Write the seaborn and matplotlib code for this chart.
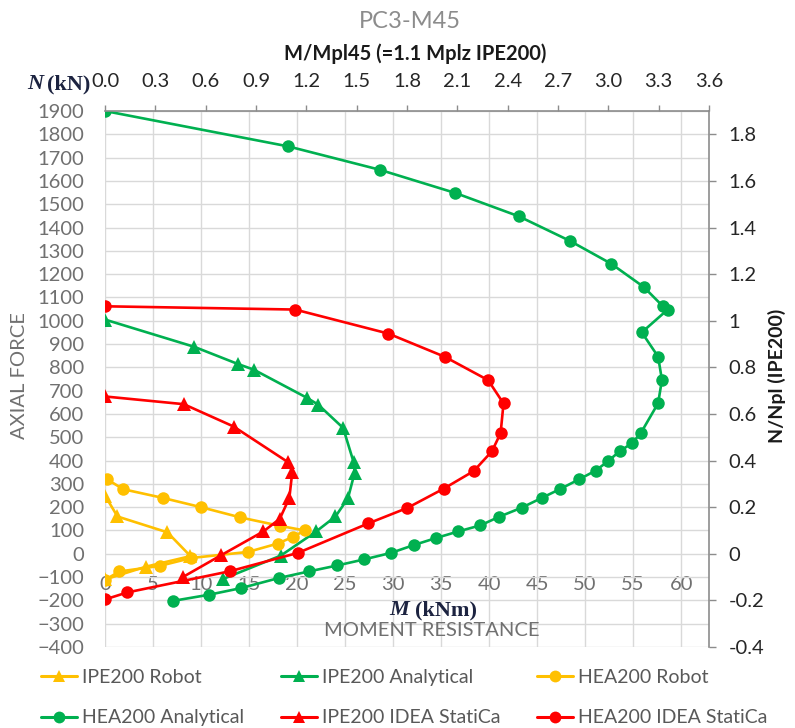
import numpy as np
import pandas as pd
import matplotlib
matplotlib.use("Agg")
import matplotlib.pyplot as plt
import seaborn as sns
from matplotlib.lines import Line2D
from matplotlib.ticker import FixedLocator, FuncFormatter

# ---------------- data (M in kNm, N in kN) ----------------
ipe_robot_M = [0, 1.3, 6.5, 8.9, 4.3, 0]
ipe_robot_N = [250, 160, 92, -10, -55, -110]

ipe_anal_M = [0, 9.3, 13.8, 15.5, 21.0, 22.2, 24.8, 25.9, 26.0, 25.3, 24.0, 22.0, 18.3, 12.3]
ipe_anal_N = [1005, 888, 815, 790, 670, 640, 540, 392, 348, 238, 160, 96, -8, -108]

hea_robot_M = [0.2, 1.9, 6.0, 10.0, 14.1, 18.2, 20.8, 19.6, 18.0, 14.9, 9.0, 5.7, 1.5, 0]
hea_robot_N = [320, 277, 240, 200, 156, 120, 100, 73, 44, 8, -18, -52, -76, -112]

hea_anal_M = [0, 19.1, 28.6, 36.5, 43.1, 48.4, 52.7, 56.1, 58.1, 58.6, 55.9, 57.6, 58.0,
              57.6, 55.8, 54.9, 53.6, 52.4, 51.1, 49.4, 47.4, 45.5, 43.4, 41.0, 39.1,
              36.8, 34.5, 32.2, 29.8, 27.0, 24.2, 21.2, 18.1, 14.2, 10.8, 7.1]
hea_anal_N = [1900, 1748, 1648, 1548, 1448, 1343, 1245, 1145, 1062, 1048, 950, 846, 746,
              646, 518, 475, 440, 398, 357, 320, 278, 240, 198, 158, 122,
              96, 68, 38, 4, -24, -50, -76, -104, -147, -176, -202]

ipe_idea_M = [0, 8.2, 13.4, 19.1, 19.5, 19.2, 18.2, 16.5, 12.1, 8.1]
ipe_idea_N = [675, 642, 546, 392, 350, 240, 150, 96, -6, -100]

hea_idea_M = [0, 19.8, 29.5, 35.4, 39.9, 41.5, 41.2, 40.3, 38.4, 35.3, 31.5, 27.4, 20.1, 13.0, 2.3, 0]
hea_idea_N = [1062, 1048, 945, 845, 745, 645, 518, 440, 355, 280, 197, 130, 4, -75, -166, -196]

series_names = ["IPE200 Robot", "IPE200 Analytical", "HEA200 Robot",
                "HEA200 Analytical", "IPE200 IDEA StatiCa", "HEA200 IDEA StatiCa"]
series_M = [ipe_robot_M, ipe_anal_M, hea_robot_M, hea_anal_M, ipe_idea_M, hea_idea_M]
series_N = [ipe_robot_N, ipe_anal_N, hea_robot_N, hea_anal_N, ipe_idea_N, hea_idea_N]

left_ticks = list(range(-400, 1901, 100))
bottom_ticks = list(range(0, 61, 5))
top_ticks = [round(0.3 * i, 1) for i in range(13)]
right_ticks = [round(-0.4 + 0.2 * i, 1) for i in range(12)]

# ---------------- styles ----------------
ORANGE, GREEN, RED = "#FFC000", "#00B050", "#FF0000"
palette = {"IPE200 Robot": ORANGE, "IPE200 Analytical": GREEN, "HEA200 Robot": ORANGE,
           "HEA200 Analytical": GREEN, "IPE200 IDEA StatiCa": RED, "HEA200 IDEA StatiCa": RED}
markers = {"IPE200 Robot": "^", "IPE200 Analytical": "^", "HEA200 Robot": "o",
           "HEA200 Analytical": "o", "IPE200 IDEA StatiCa": "^", "HEA200 IDEA StatiCa": "o"}

frames = []
for name, m, n in zip(series_names, series_M, series_N):
    frames.append(pd.DataFrame({"M": m, "N": n, "series": name, "idx": range(len(m))}))
df = pd.concat(frames, ignore_index=True)

sns.set_theme(style="white")
plt.rcParams["font.family"] = ["Lato", "DejaVu Sans"]

W, H = 795, 728
fig = plt.figure(figsize=(W / 100, H / 100), dpi=100)
L, R, T, B = 105, 709, 111, 647
ax = fig.add_axes([L / W, 1 - B / H, (R - L) / W, (B - T) / H])

XMAX = 62.9
ax.set_xlim(0, XMAX)
ax.set_ylim(-400, 1900)

for name in series_names:
    sub = df[df["series"] == name]
    sns.lineplot(data=sub, x="M", y="N", sort=False, estimator=None, ax=ax,
                 color=palette[name], marker=markers[name],
                 markersize=9.5 if markers[name] == "^" else 9, markeredgewidth=0,
                 linewidth=1.9, legend=False)

ax.set_xlabel("")
ax.set_ylabel("")
ax.xaxis.set_major_locator(FixedLocator(bottom_ticks))
ax.yaxis.set_major_locator(FixedLocator(left_ticks))
ax.grid(True, color="#D9D9D9", linewidth=1.0)
ax.set_axisbelow(True)
for s in ax.spines.values():
    s.set_visible(False)
ax.spines["bottom"].set_position(("data", 0))
ax.tick_params(axis="x", length=0, pad=16, labelsize=14.5, labelcolor="#707070")
ax.tick_params(axis="y", length=0, pad=15, labelsize=14.5, labelcolor="#707070")

# top secondary axis
ax2 = ax.twiny()
ax2.set_xlim(0, 3.6)
ax2.xaxis.set_major_locator(FixedLocator(top_ticks))
ax2.xaxis.set_major_formatter(FuncFormatter(lambda v, p: f"{v:.1f}"))
for s in ax2.spines.values():
    s.set_visible(False)
ax2.spines["top"].set_visible(True)
ax2.spines["top"].set_color("#8C8C8C")
ax2.spines["top"].set_linewidth(1.2)
ax2.tick_params(axis="x", direction="out", length=4, width=1, color="#8C8C8C",
                pad=11, labelsize=14.5, labelcolor="#262626")
ax2.grid(False)

# right secondary axis
ax3 = ax.twinx()
ax3.set_ylim(-0.4, 1.9)
ax3.yaxis.set_major_locator(FixedLocator(right_ticks))
ax3.yaxis.set_major_formatter(FuncFormatter(lambda v, p: f"{v:g}" if abs(v) > 1e-9 else "0"))
for s in ax3.spines.values():
    s.set_visible(False)
ax3.spines["right"].set_visible(True)
ax3.spines["right"].set_color("#8C8C8C")
ax3.spines["right"].set_linewidth(1.2)
ax3.tick_params(axis="y", direction="out", length=5, width=1, color="#8C8C8C",
                pad=9, labelsize=14.5, labelcolor="#262626")
ax3.grid(False)

# ---------------- texts ----------------
def ft(x, y, s, **kw):
    fig.text(x / W, 1 - y / H, s, **kw)

ft(410, 22, "PC3-M45", ha="center", va="center", fontsize=17, color="#8C8C8C")
ft(415, 54, "M/Mpl45 (=1.1 Mplz IPE200)", ha="center", va="center", fontsize=14.5,
   fontweight="bold", color="#1A1A1A")
serif = ["Liberation Serif", "DejaVu Serif"]
NAVY = "#1C2340"
ft(43, 84, "N", ha="right", va="center", fontsize=16, fontweight="bold", style="italic",
   family=serif, color=NAVY)
ft(47, 84, "(kN)", ha="left", va="center", fontsize=16, fontweight="bold", family=serif, color=NAVY)
ft(409, 610, "M", ha="right", va="center", fontsize=16, fontweight="bold", style="italic",
   family=serif, color=NAVY)
ft(415, 610, "(kNm)", ha="left", va="center", fontsize=16, fontweight="bold", family=serif, color=NAVY)
ft(432, 631, "MOMENT RESISTANCE", ha="center", va="center", fontsize=14.5, color="#707070")
ft(20, 376, "AXIAL FORCE", ha="center", va="center", rotation=90, fontsize=14.5, color="#707070")
ft(777, 376, "N/Npl (IPE200)", ha="center", va="center", rotation=90, fontsize=14,
   fontweight="bold", color="#1A1A1A")

# ---------------- legend ----------------
handles = {name: Line2D([], [], color=palette[name], marker=markers[name], linewidth=2.2,
                        markersize=9 if markers[name] == "^" else 8.5, markeredgewidth=0)
           for name in series_names}
# rows: [0,1,2] / [3,4,5] -> column-major order for matplotlib
order = [0, 3, 1, 4, 2, 5]
leg = fig.legend([handles[series_names[i]] for i in order], [series_names[i] for i in order],
                 ncol=3, loc="upper left", bbox_to_anchor=(41 / W, 1 - 669 / H),
                 frameon=False, fontsize=14, handlelength=1.85, handletextpad=0.25,
                 columnspacing=1.9, labelspacing=1.2, borderpad=0, borderaxespad=0)
for t in leg.get_texts():
    t.set_color("#595959")

fig.savefig("out.png", dpi=100)
